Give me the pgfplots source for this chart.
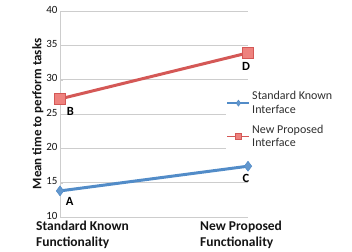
\documentclass[border=0pt]{standalone}
\usepackage{pgfplots}
\pgfplotsset{compat=1.18}
\usepackage{fontspec}
\setmainfont{Carlito}
\definecolor{exblue}{RGB}{82,140,200}
\definecolor{exred}{RGB}{212,88,86}
\definecolor{exredfill}{RGB}{238,130,126}
\definecolor{gridg}{RGB}{205,205,205}
\definecolor{txt}{RGB}{20,20,20}
\begin{document}
\begin{tikzpicture}
\path[use as bounding box] (-60pt,-34pt) rectangle (292pt,217pt);
\begin{axis}[
  scale only axis,
  width=188pt, height=206pt,
  at={(0pt,0pt)}, anchor=south west,
  xmin=0, xmax=1, ymin=10, ymax=40,
  ytick={10,15,...,40},
  xtick={0,1},
  xticklabels={{Standard Known\\Functionality},{New Proposed\\Functionality}},
  xticklabel style={font=\fontsize{13.5}{15.5}\selectfont\bfseries, align=left, anchor=north west, xshift=-24pt-24pt*\ticknum, yshift=-4pt, text=txt, inner sep=0pt},
  yticklabel style={font=\fontsize{11}{12}\selectfont, text=txt, xshift=1pt, yshift=1.5pt},
  /pgf/number format/assume math mode=true,
  ymajorgrids, major grid style={gridg, line width=0.9pt},
  axis lines*=left,
  x axis line style={gridg, line width=0.9pt, -},
  y axis line style={gridg, line width=0.9pt, -},
  major tick length=3pt,
  tick style={gridg},
  x tick style={draw=none},
  ylabel={Mean time to perform tasks},
  ylabel style={font=\fontsize{13}{14}\selectfont\bfseries, text=txt, yshift=-4pt},
  clip=false,
  legend style={at={(0.88,0.625)}, anchor=north west, draw=none, fill=white,
    font=\fontsize{12}{13.5}\selectfont, text=txt!75!gray, cells={align=left},
    row sep=6pt, inner sep=1pt},
  legend cell align=left,
  legend image post style={line width=1.6pt, mark size=3pt},
  legend image code/.code={\draw[#1] (0pt,0pt) -- (11pt,0pt) -- (22pt,0pt); \draw[#1, only marks] plot coordinates {(11pt,0pt)};},
]
\addplot[exblue, line width=3pt, mark=diamond*, mark size=5pt, mark options={fill=exblue!90!white, line width=0.5pt}]
  coordinates {(0,13.8) (1,17.4)}
  node[pos=0, anchor=north west, font=\fontsize{12.5}{13}\selectfont\bfseries, text=black, xshift=1pt, yshift=-2pt] {A}
  node[pos=1, anchor=north, font=\fontsize{12.5}{13}\selectfont\bfseries, text=black, xshift=-2pt, yshift=-3pt] {C};
\addlegendentry{Standard Known\\Interface}
\addplot[exred, line width=3pt, mark=square*, mark size=5.5pt, mark options={fill=exredfill, draw=exred, line width=0.6pt}]
  coordinates {(0,27.2) (1,33.9)}
  node[pos=0, anchor=north west, font=\fontsize{12.5}{13}\selectfont\bfseries, text=black, xshift=2pt, yshift=-4pt] {B}
  node[pos=1, anchor=north, font=\fontsize{12.5}{13}\selectfont\bfseries, text=black, xshift=-2pt, yshift=-5pt] {D};
\addlegendentry{New Proposed\\Interface}
\end{axis}
\end{tikzpicture}
\end{document}
